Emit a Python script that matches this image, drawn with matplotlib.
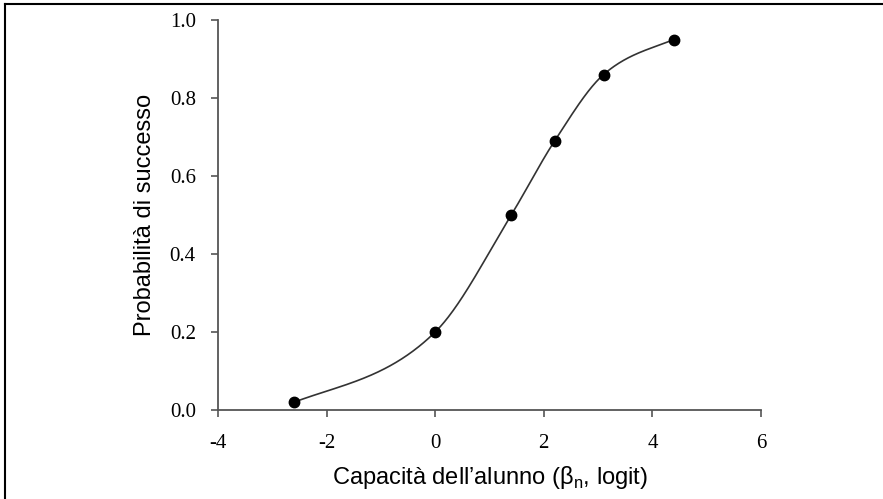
import numpy as np
import matplotlib.pyplot as plt
from matplotlib.lines import Line2D

plt.rcParams['mathtext.fontset'] = 'custom'
plt.rcParams['mathtext.rm'] = 'Liberation Sans'

# abilità (logit) e probabilità osservata
ability = [-2.6, 0.0, 1.4, 2.2, 3.1, 4.4]
prob = [0.02, 0.20, 0.50, 0.69, 0.86, 0.95]
xticks = [-4, -2, 0, 2, 4, 6]
yticks = [0.0, 0.2, 0.4, 0.6, 0.8, 1.0]


def hermite(x, y, n=400):
    # cubica di Hermite; tangenti interne: media tra media armonica
    # (tipo pchip) e media pesata delle corde
    x = np.asarray(x, float)
    y = np.asarray(y, float)
    h = np.diff(x)
    d = np.diff(y) / h
    m = np.zeros_like(y)
    for i in range(1, len(x) - 1):
        w1 = 2 * h[i] + h[i - 1]
        w2 = h[i] + 2 * h[i - 1]
        harm = (w1 + w2) / (w1 / d[i - 1] + w2 / d[i])
        arit = (d[i - 1] * h[i] + d[i] * h[i - 1]) / (h[i - 1] + h[i])
        m[i] = (harm + arit) / 2
    # estremi: a metà tra corda e condizione naturale
    m[0] = (d[0] + (3 * d[0] - m[1]) / 2) / 2
    m[-1] = (d[-1] + (3 * d[-1] - m[-2]) / 2) / 2
    xs = np.linspace(x[0], x[-1], n)
    i = np.clip(np.searchsorted(x, xs) - 1, 0, len(x) - 2)
    t = (xs - x[i]) / h[i]
    h00 = 2 * t ** 3 - 3 * t ** 2 + 1
    h10 = t ** 3 - 2 * t ** 2 + t
    h01 = -2 * t ** 3 + 3 * t ** 2
    h11 = t ** 3 - t ** 2
    ys = h00 * y[i] + h10 * h[i] * m[i] + h01 * y[i + 1] + h11 * h[i] * m[i + 1]
    return xs, ys


fig = plt.figure(figsize=(8.83, 4.99), dpi=100)
ax = fig.add_axes([218 / 883, 1 - 410 / 499, (761 - 218) / 883, (410 - 20) / 499])

xs, ys = hermite(ability, prob)
ax.plot(xs, ys, color='#333333', lw=1.2)
ax.plot(ability, prob, 'o', color='black', ms=7.5)

ax.set_xlim(-4, 6)
ax.set_ylim(0, 1.0)
ax.set_xticks(xticks)
ax.set_yticks(yticks)
ax.set_xticklabels([str(t) for t in xticks])
ax.set_yticklabels(['%.1f' % t for t in yticks])

for s in ['top', 'right']:
    ax.spines[s].set_visible(False)
for s in ['left', 'bottom']:
    ax.spines[s].set_color('#555555')
    ax.spines[s].set_linewidth(1.3)
ax.tick_params(direction='out', length=5, width=1.2, color='#555555',
               labelsize=15)
ax.tick_params(axis='x', pad=12)
ax.tick_params(axis='y', pad=11)
for lab in ax.get_xticklabels() + ax.get_yticklabels():
    lab.set_fontfamily('Liberation Serif')

ax.set_xlabel('Capacità dell\u2019alunno (β$_\\mathrm{n}$, logit)',
              family='Liberation Sans', fontsize=17, labelpad=8)
ax.set_ylabel('Probabilità di successo', family='Liberation Sans',
              fontsize=17, labelpad=10)

# cornice sinistra e superiore
fig.add_artist(Line2D([4.5 / 883, 4.5 / 883], [0, 1 - 4 / 499],
                      transform=fig.transFigure, color='black', lw=1.5))
fig.add_artist(Line2D([4.5 / 883, 1], [1 - 4 / 499, 1 - 4 / 499],
                      transform=fig.transFigure, color='black', lw=1.5))

fig.savefig('out.png', dpi=100)
